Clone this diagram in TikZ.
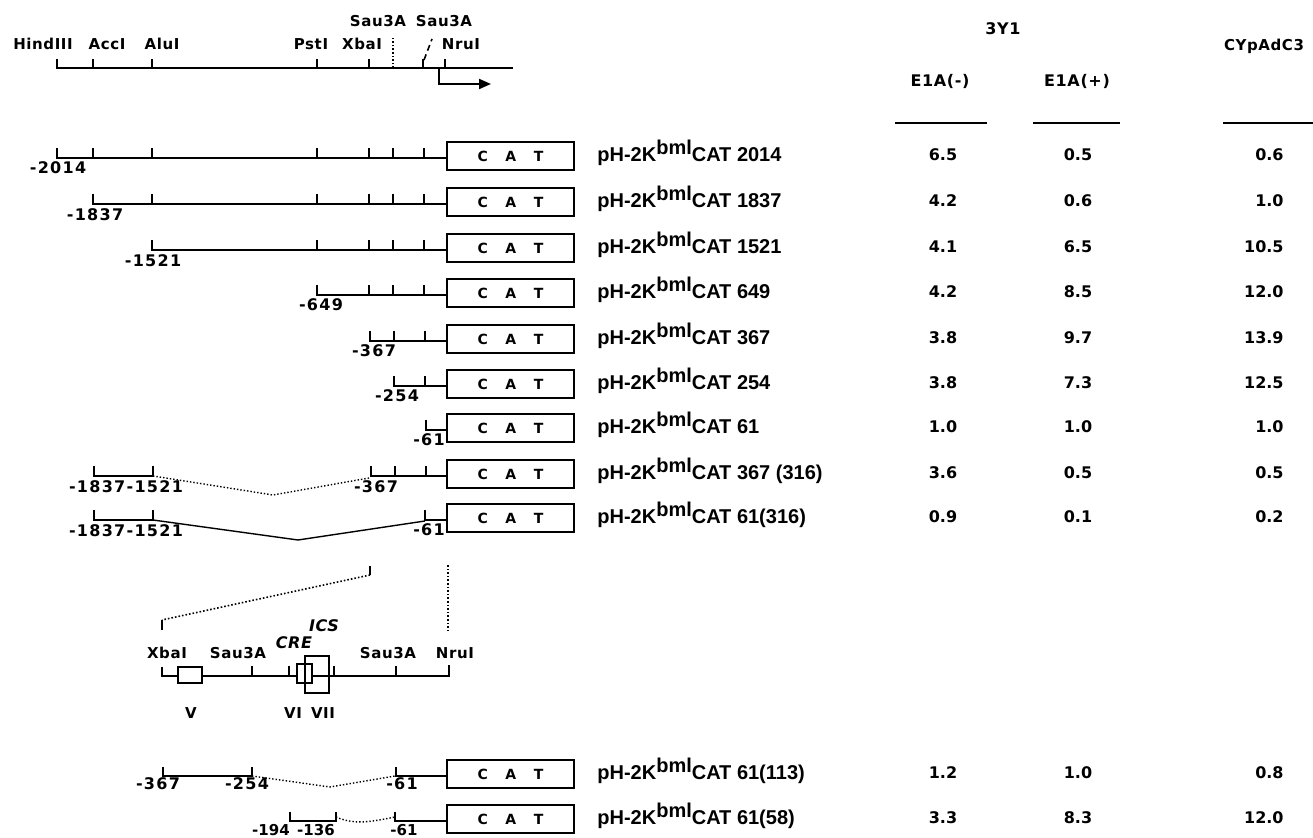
\documentclass[tikz,border=0pt]{standalone}
\usepackage{fontspec}
\setmainfont{Liberation Sans}
\newfontfamily\mapf[LetterSpace=4]{DejaVu Sans}
\newfontfamily\posf[LetterSpace=8]{DejaVu Sans}
\newfontfamily\valf{DejaVu Sans}
\usetikzlibrary{arrows.meta}
\tikzset{
  dna/.style={line width=1pt},
  rtick/.style={line width=1pt},
  thinjoin/.style={line width=0.7pt, densely dotted},
  catbox/.style={draw, line width=1pt, minimum width=63.5pt, minimum height=14pt, inner sep=0pt,
    font=\valf\bfseries\fontsize{7}{7}\selectfont},
  elembox/.style={draw, line width=0.9pt, inner sep=0pt},
  poslab/.style={anchor=base, inner sep=0pt, font=\posf\bfseries\fontsize{8}{8}\selectfont},
  smallpos/.style={anchor=base, inner sep=0pt, font=\valf\bfseries\fontsize{7.5}{7.5}\selectfont},
  maplab/.style={anchor=base, inner sep=0pt, font=\mapf\bfseries\fontsize{7.5}{7.5}\selectfont},
  itlab/.style={anchor=base, inner sep=0pt, font=\mapf\bfseries\itshape\fontsize{8}{8}\selectfont},
  conlab/.style={anchor=base west, inner sep=0pt, font=\bfseries\fontsize{10}{10}\selectfont},
  val/.style={anchor=base, inner sep=0pt, font=\valf\bfseries\fontsize{8}{8}\selectfont},
  hdr/.style={anchor=base, inner sep=0pt, font=\mapf\bfseries\fontsize{8}{8}\selectfont},
  rule/.style={line width=1.3pt}
}
\begin{document}
\begin{tikzpicture}[x=0.5pt,y=-0.5pt]
\useasboundingbox[fill=white] (0,0) rectangle (1313,838);

% ---------- top restriction map ----------
\coordinate (mL) at (56,68);
\coordinate (mR) at (513,68);
\draw[dna] (mL) -- (mR);
\foreach \t in {57,93,152,317,369,423,445} \draw[rtick] (\t,68) -- (\t,59);
\draw[line width=0.8pt, densely dotted] (393,68) -- (393,38);
\draw[line width=0.8pt, densely dashed] (424,60) -- (432,39);
\node[maplab] (mHind) at (43,50) {HindIII};
\node[maplab] (mAcc) at (107,50) {AccI};
\node[maplab] (mAlu) at (162,50) {AluI};
\node[maplab] (mPst) at (311,50) {PstI};
\node[maplab] (mXba) at (362,50) {XbaI};
\node[maplab] (mSauA) at (378,27) {Sau3A};
\node[maplab] (mSauB) at (444,27) {Sau3A};
\node[maplab] (mNru) at (461,50) {NruI};
\coordinate (tss) at (439,68);
\coordinate (tssc) at (439,84);
\coordinate (tsse) at (491,84);
\draw[dna, -{Triangle[length=6pt,width=5pt]}] (tss) -- (tssc) -- (tsse);

% ---------- table headers ----------
\node[hdr] (h3y1) at (1003,35) {3Y1};
\node[hdr, font=\mapf\bfseries\fontsize{7.5}{7.5}\selectfont] (hcyp) at (1264,51) {CYpAdC3};
\node[hdr] (hminus) at (940,87) {E1A(-)};
\node[hdr] (hplus) at (1077,87) {E1A(+)};
\draw[rule] (895,123) -- (987,123);
\draw[rule] (1033,123) -- (1120,123);
\draw[rule] (1223,123) -- (1313,123);

% ---------- CAT boxes, names, values ----------
\foreach \n/\y/\lab/\a/\b/\c in {
  1/158/2014/6.5/0.5/0.6,
  2/204/1837/4.2/0.6/1.0,
  3/250/1521/4.1/6.5/10.5,
  4/295/649/4.2/8.5/12.0,
  5/341/367/3.8/9.7/13.9,
  6/386/254/3.8/7.3/12.5,
  7/430/61/1.0/1.0/1.0,
  8/476/367 (316)/3.6/0.5/0.5,
  9/520/61(316)/0.9/0.1/0.2,
  10/776/61(113)/1.2/1.0/0.8,
  11/821/61(58)/3.3/8.3/12.0}{
  \node[catbox] (cat\n) at (510.5,\y-2) {C\hspace{8.8pt}A\hspace{8.8pt}T};
  \node[conlab] (name\n) at (597,\y+4) {pH-2K\raisebox{3.6pt}{bml}CAT \lab};
  \node[val] (va\n) at (943,\y+3) {\a};
  \node[val] (vb\n) at (1078,\y+3) {\b};
  \node[val, anchor=base east] (vc\n) at (1284,\y+3) {\c};
}

% ---------- deletion constructs ----------
% row 1
\draw[dna] (57,148) -- (57,158) -- (cat1.west |- 57,158);
\foreach \t in {93,152,317,369,393,424} \draw[rtick] (\t,158) -- (\t,148);
\node[poslab] (p1) at (58,174) {-2014};
% row 2
\draw[dna] (93,194) -- (93,204) -- (cat2.west |- 93,204);
\foreach \t in {152,317,369,393,424} \draw[rtick] (\t,204) -- (\t,194);
\node[poslab] (p2) at (95,221) {-1837};
% row 3
\draw[dna] (152,240) -- (152,250) -- (cat3.west |- 152,250);
\foreach \t in {317,369,393,424} \draw[rtick] (\t,250) -- (\t,240);
\node[poslab] (p3) at (153,267) {-1521};
% row 4
\draw[dna] (317,285) -- (317,295) -- (cat4.west |- 317,295);
\foreach \t in {369,393,424} \draw[rtick] (\t,295) -- (\t,285);
\node[poslab] (p4) at (321,311) {-649};
% row 5
\draw[dna] (370,331) -- (370,341) -- (cat5.west |- 370,341);
\foreach \t in {394,425} \draw[rtick] (\t,341) -- (\t,331);
\node[poslab] (p5) at (374,357) {-367};
% row 6
\draw[dna] (394,376) -- (394,386) -- (cat6.west |- 394,386);
\draw[rtick] (425,386) -- (425,376);
\node[poslab] (p6) at (397,402) {-254};
% row 7
\draw[dna] (426,420) -- (426,430) -- (cat7.west |- 426,430);
\node[poslab] (p7) at (429,446) {-61};
% row 8
\coordinate (a8) at (153,476);
\coordinate (m8) at (273,495);
\coordinate (b8) at (369,478);
\draw[dna] (94,466) -- (94,476) -- (a8) -- (153,466);
\draw[thinjoin] (a8) -- (m8) -- (b8);
\draw[dna] (371,466) -- (371,476) -- (cat8.west |- 371,476);
\foreach \t in {395,426} \draw[rtick] (\t,476) -- (\t,466);
\node[poslab] (p8a) at (126,493) {-1837-1521};
\node[poslab] (p8b) at (376,493) {-367};
% row 9
\coordinate (a9) at (153,520);
\coordinate (m9) at (298,540);
\coordinate (b9) at (425,521);
\draw[dna] (94,510) -- (94,520) -- (a9) -- (153,510);
\draw[line width=0.7pt] (a9) -- (m9) -- (b9);
\draw[dna] (425,510) -- (425,520) -- (cat9.west |- 425,520);
\node[poslab] (p9a) at (126,537) {-1837-1521};
\node[poslab] (p9b) at (429,536) {-61};

% ---------- expansion of XbaI-NruI region ----------
\coordinate (eR) at (370,575);
\coordinate (eL) at (162,620);
\draw[line width=0.8pt] (370,566) -- (eR);
\draw[line width=0.8pt, densely dotted] (eR) -- (eL);
\draw[line width=0.8pt] (eL) -- (162,630);
\draw[line width=0.8pt, densely dotted] (448,565) -- (448,630);

\draw[dna] (162,667) -- (162,676) -- (449,676) -- (449,665);
\foreach \t in {252,289,334,396} \draw[rtick] (\t,676) -- (\t,666);
\node[elembox, fill=white, minimum width=12pt, minimum height=8pt] (boxV) at (190,675) {};
\node[elembox, fill=white, minimum width=7.5pt, minimum height=9.5pt] (boxCRE) at (304.5,673.5) {};
\node[elembox, minimum width=12pt, minimum height=18.5pt] (boxICS) at (317,674.5) {};
\node[maplab] (cXba) at (167,659) {XbaI};
\node[maplab] (cSauA) at (238,659) {Sau3A};
\node[itlab] (cCRE) at (294,649) {CRE};
\node[itlab] (cICS) at (324,632) {ICS};
\node[maplab] (cSauB) at (388,659) {Sau3A};
\node[maplab] (cNru) at (455,659) {NruI};
\node[maplab] (lV) at (191,719) {V};
\node[maplab] (lVI) at (293,719) {VI};
\node[maplab] (lVII) at (323,719) {VII};

% ---------- internal deletion constructs ----------
% row 10
\coordinate (a10) at (252,776);
\coordinate (m10) at (330,787);
\coordinate (b10) at (395,776);
\draw[dna] (163,767) -- (163,776) -- (a10) -- (252,767);
\draw[thinjoin] (a10) -- (m10) -- (b10);
\draw[dna] (396,767) -- (396,776) -- (cat10.west |- 396,776);
\node[poslab] (p10a) at (158,790) {-367};
\node[poslab] (p10b) at (247,790) {-254};
\node[poslab] (p10c) at (402,790) {-61};
% row 11
\coordinate (a11) at (336,817);
\coordinate (b11) at (395,817);
\draw[dna] (290,812) -- (290,821) -- (336,821) -- (336,812);
\draw[thinjoin] (a11) .. controls (355,825) and (370,822) .. (b11);
\draw[dna] (395,812) -- (395,821) -- (cat11.west |- 395,821);
\node[smallpos] (p11a) at (271,836) {-194};
\node[smallpos] (p11b) at (316,836) {-136};
\node[smallpos] (p11c) at (404,836) {-61};
\end{tikzpicture}
\end{document}
